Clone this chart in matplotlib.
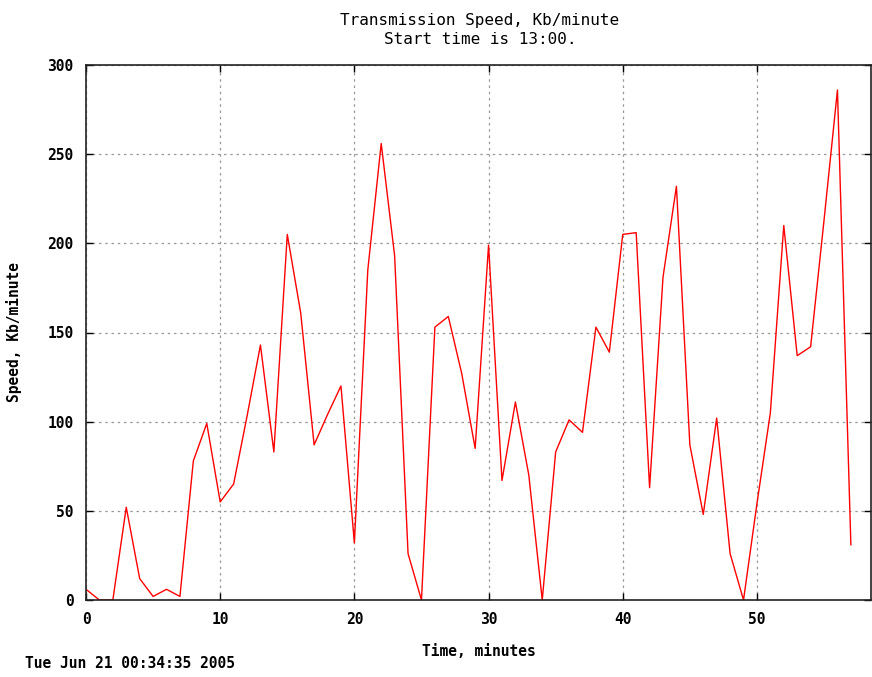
"""Transmission speed per minute, gnuplot-style line chart."""
import matplotlib
matplotlib.use("Agg")
import matplotlib.pyplot as plt

minutes = list(range(58))
speed = [6, 0, 0, 52, 12, 2, 6, 2, 78, 99,
         55, 65, 103, 143, 83, 205, 161, 87, 104, 120,
         32, 185, 256, 193, 26, 0, 153, 159, 127, 85,
         199, 67, 111, 70, 0, 83, 101, 94, 153, 139,
         205, 206, 63, 181, 232, 87, 48, 102, 26, 0,
         54, 105, 210, 137, 142, 213, 286, 31]

x_ticks = [0, 10, 20, 30, 40, 50]
y_ticks = [0, 50, 100, 150, 200, 250, 300]

FONT = "DejaVu Sans Mono"

fig = plt.figure(figsize=(8.72, 6.77), dpi=100)
ax = fig.add_axes([86 / 872, 1 - 600 / 677, 785 / 872, 535 / 677])

ax.plot(minutes, speed, color="red", linewidth=1.0)

ax.set_xlim(0, 58.5)
ax.set_ylim(0, 300)
ax.set_xticks(x_ticks)
ax.set_yticks(y_ticks)
ax.tick_params(direction="in", top=True, right=True, length=5, width=1, pad=9,
               labelsize=10.5)
for lab in ax.get_xticklabels() + ax.get_yticklabels():
    lab.set_fontfamily(FONT)
    lab.set_fontweight("bold")

ax.grid(True, color="#999999", linestyle=(0, (2, 3)), linewidth=0.9)
for s in ax.spines.values():
    s.set_linewidth(1.2)
    s.set_color("#222222")

ax.set_xlabel("Time, minutes", fontfamily=FONT, fontweight="bold", fontsize=10.5,
              labelpad=12)
ax.set_ylabel("Speed, Kb/minute", fontfamily=FONT, fontweight="bold", fontsize=10.5,
              labelpad=18)

fig.text(480 / 872, 1 - 20 / 677, "Transmission Speed, Kb/minute",
         ha="center", va="center", fontfamily=FONT, fontsize=11.5)
fig.text(480 / 872, 1 - 40 / 677, "Start time is 13:00.",
         ha="center", va="center", fontfamily=FONT, fontsize=11.5)
fig.text(25 / 872, 1 - 664 / 677, "Tue Jun 21 00:34:35 2005",
         ha="left", va="center", fontfamily=FONT, fontweight="bold", fontsize=10.5)

fig.savefig("out.png", dpi=100)
